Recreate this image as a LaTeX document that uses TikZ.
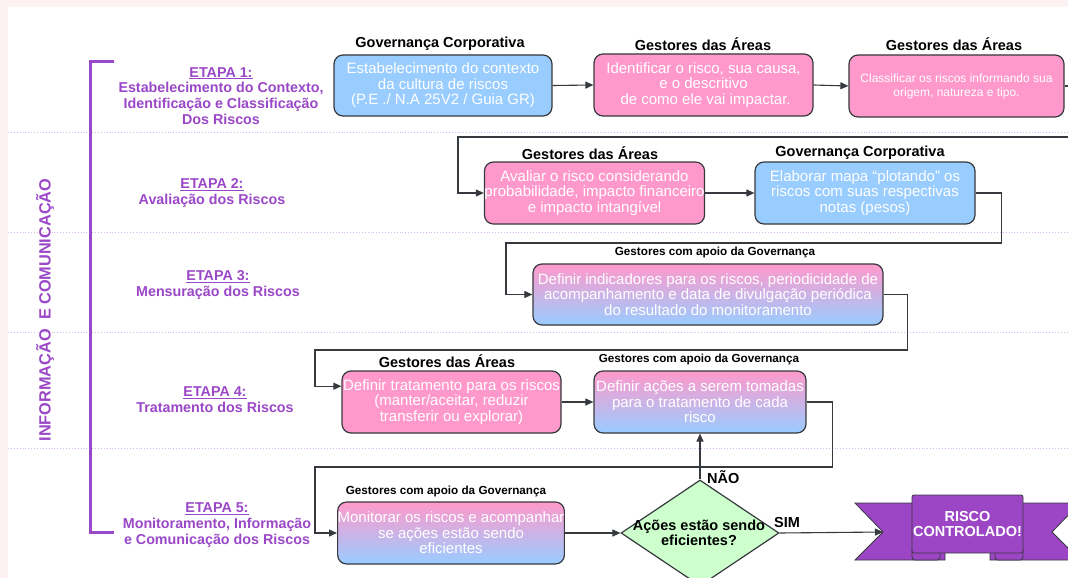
\documentclass[tikz,border=0pt]{standalone}
\usepackage{fontspec}
\setmainfont{Liberation Sans}
\usetikzlibrary{arrows.meta,shapes.geometric,calc}
\definecolor{pinkc}{HTML}{FF99CC}
\definecolor{bluec}{HTML}{99CCFF}
\definecolor{bord}{HTML}{36393D}
\definecolor{purp}{HTML}{9A48C8}
\definecolor{greenc}{HTML}{CCFFCC}
\definecolor{ribc}{HTML}{9C46C6}
\definecolor{sepc}{HTML}{D9B8EA}
\definecolor{bgtint}{HTML}{FCF2F4}
\tikzset{
  box/.style={draw=bord, line width=1.2pt, rounded corners=9pt, text=white, align=center, inner sep=0pt, font=\fontsize{15}{15.5}\selectfont},
  pinkbox/.style={box, fill=pinkc},
  bluebox/.style={box, fill=bluec},
  gradbox/.style={box, top color=pinkc, bottom color=bluec},
  role/.style={font=\bfseries\fontsize{14.5}{16}\selectfont, text=black, inner sep=0pt},
  subrole/.style={font=\bfseries\fontsize{11.7}{13}\selectfont, text=black, inner sep=0pt},
  etapa/.style={font=\bfseries\fontsize{14.3}{15.8}\selectfont, text=purp, align=center, inner sep=0pt},
  conn/.style={draw=bord, line width=1.1pt, -{Triangle[length=8pt,width=7pt]}},
  wire/.style={draw=bord, line width=1.1pt},
  sepline/.style={draw=sepc, line width=0.9pt, dotted},
  yesno/.style={font=\bfseries\fontsize{14.5}{16}\selectfont, text=black, inner sep=0pt},
}
\begin{document}
\begin{tikzpicture}[x=1pt,y=-1pt]
\useasboundingbox (0,0) rectangle (1068,578);
\fill[bgtint] (0,0) rectangle (1068,578);
\fill[white] (8,7) rectangle (1068,578);

% separators
\foreach \yy in {132,232,332,448} {\draw[sepline] (8,\yy) -- (1068,\yy);}

% bracket and vertical title
\draw[purp, line width=3pt] (114,62) -- (90,62) -- (90,532) -- (114,532);
\node[rotate=90, font=\bfseries\fontsize{16.3}{16}\selectfont, text=purp, inner sep=0pt] (vt) at (45,310) {INFORMAÇÃO\ \ E COMUNICAÇÃO};

% etapa labels
\node[etapa] (e1) at (221,96) {\underline{ETAPA 1:}\\Estabelecimento do Contexto,\\Identificação e Classificação\\Dos Riscos};
\node[etapa] (e2) at (212,193) {\underline{ETAPA 2:}\\Avaliação dos Riscos};
\node[etapa] (e3) at (218,285) {\underline{ETAPA 3:}\\Mensuração dos Riscos};
\node[etapa] (e4) at (215,400) {\underline{ETAPA 4:}\\Tratamento dos Riscos};
\node[etapa] (e5) at (217,525) {\underline{ETAPA 5:}\\Monitoramento, Informação\\e Comunicação dos Riscos};

% row 1
\node[role] (l1) at (440,44) {Governança Corporativa};
\node[role] (l2) at (703,44) {Gestores das Áreas};
\node[role] (l3) at (954,44) {Gestores das Áreas};
\node[bluebox, minimum width=218pt, minimum height=61pt] (b1) at (443,85.5) {Estabelecimento do contexto\\da cultura de riscos\\(P.E ./ N.A 25V2 / Guia GR)};
\node[pinkbox, minimum width=219pt, minimum height=62pt] (b2) at (703.5,85) {Identificar o risco, sua causa,\\e o descritivo\\\ de como ele vai impactar.};
\node[pinkbox, minimum width=215pt, minimum height=62pt, font=\fontsize{12}{14}\selectfont] (b3) at (956.5,86) {Classificar os riscos informando sua\\origem, natureza e tipo.};

% row 2
\node[role] (l4) at (590,153) {Gestores das Áreas};
\node[role] (l5) at (860,153) {Governança Corporativa};
\node[pinkbox, minimum width=219pt, minimum height=62pt] (b4) at (594.5,193) {Avaliar o risco considerando\\probabilidade, impacto financeiro\\e impacto intangível};
\node[bluebox, minimum width=220pt, minimum height=62pt] (b5) at (865,193) {Elaborar mapa “plotando” os\\riscos com suas respectivas\\notas (pesos)};

% row 3
\node[subrole] (l6) at (715,252) {Gestores com apoio da Governança};
\node[gradbox, minimum width=350pt, minimum height=61pt] (b6) at (708,294.5) {Definir indicadores para os riscos, periodicidade de\\acompanhamento e data de divulgação periódica\\do resultado do monitoramento};

% row 4
\node[role] (l7) at (447,361) {Gestores das Áreas};
\node[subrole] (l8) at (699,359) {Gestores com apoio da Governança};
\node[pinkbox, minimum width=219pt, minimum height=62pt] (b7) at (451.5,402) {Definir tratamento para os riscos\\(manter/aceitar, reduzir\\transferir ou explorar)};
\node[gradbox, minimum width=212pt, minimum height=62pt] (b8) at (700,402) {Definir ações a serem tomadas\\para o tratamento de cada\\risco};

% row 5
\node[subrole] (l9) at (446,491) {Gestores com apoio da Governança};
\node[gradbox, minimum width=220pt, minimum height=62pt] (b9) at (451,533) {Monitorar os riscos e acompanhar\\se ações estão sendo\\eficientes};
\node[diamond, draw=bord, line width=1.2pt, fill=greenc, minimum width=158pt, minimum height=106pt, inner sep=0pt] (d) at (700,533) {};
\node[font=\bfseries\fontsize{14.5}{15.5}\selectfont, align=center, inner sep=0pt] (dt) at (699,533) {Ações estão sendo\\eficientes?};

% ribbon
\filldraw[fill=ribc, draw=bord, line width=0.8pt] (855,503) -- (945,503) -- (945,560) -- (855,560) -- (883,532) -- cycle;
\filldraw[fill=ribc, draw=bord, line width=0.8pt] (1080,503) -- (990,503) -- (990,560) -- (1080,560) -- (1052,532) -- cycle;
\filldraw[fill=ribc, draw=bord, line width=0.8pt, rounded corners=3pt] (912,547) rectangle (940,560);
\filldraw[fill=ribc, draw=bord, line width=0.8pt, rounded corners=3pt] (995,547) rectangle (1023,560);
\node[draw=bord, line width=0.8pt, fill=ribc, rounded corners=2pt, minimum width=111pt, minimum height=58pt, inner sep=0pt, text=white, align=center, font=\bfseries\fontsize{14.5}{15.5}\selectfont] (rib) at (967.5,524) {RISCO\\CONTROLADO!};
\coordinate (rn) at (883,532);

% connectors
\draw[conn] (b1.east) -- (b2.west);
\draw[conn] (b2.east) -- (b3.west);
\coordinate (w1) at (458,137);
\draw[conn] (b3.east) -- ++(14,0) |- (w1) |- (b4.west);
\draw[conn] (b4.east) -- (b5.west);
\coordinate (w2) at (506,243);
\draw[conn] (b5.east) -- ++(26,0) |- (w2) |- (b6.west);
\coordinate (w3) at (315,350);
\coordinate (b7in) at ($(b7.north west)!0.25!(b7.south west)$);
\draw[conn] (b6.east) -- ++(24,0) |- (w3) |- (b7in);
\draw[conn] (b7.east) -- (b8.west);
\coordinate (w4) at (315,467);
\draw[conn] (b8.east) -- ++(26,0) |- (w4) |- (b9.west);
\draw[conn] (b9.east) -- (d.west);
\draw[conn] (d.north) -- (d.north |- b8.south);
\draw[conn] (d.east) -- (rn);
\node[yesno, anchor=west] (nao) at (707,477) {NÃO};
\node[yesno] (sim) at (787,523) {SIM};
\end{tikzpicture}
\end{document}
